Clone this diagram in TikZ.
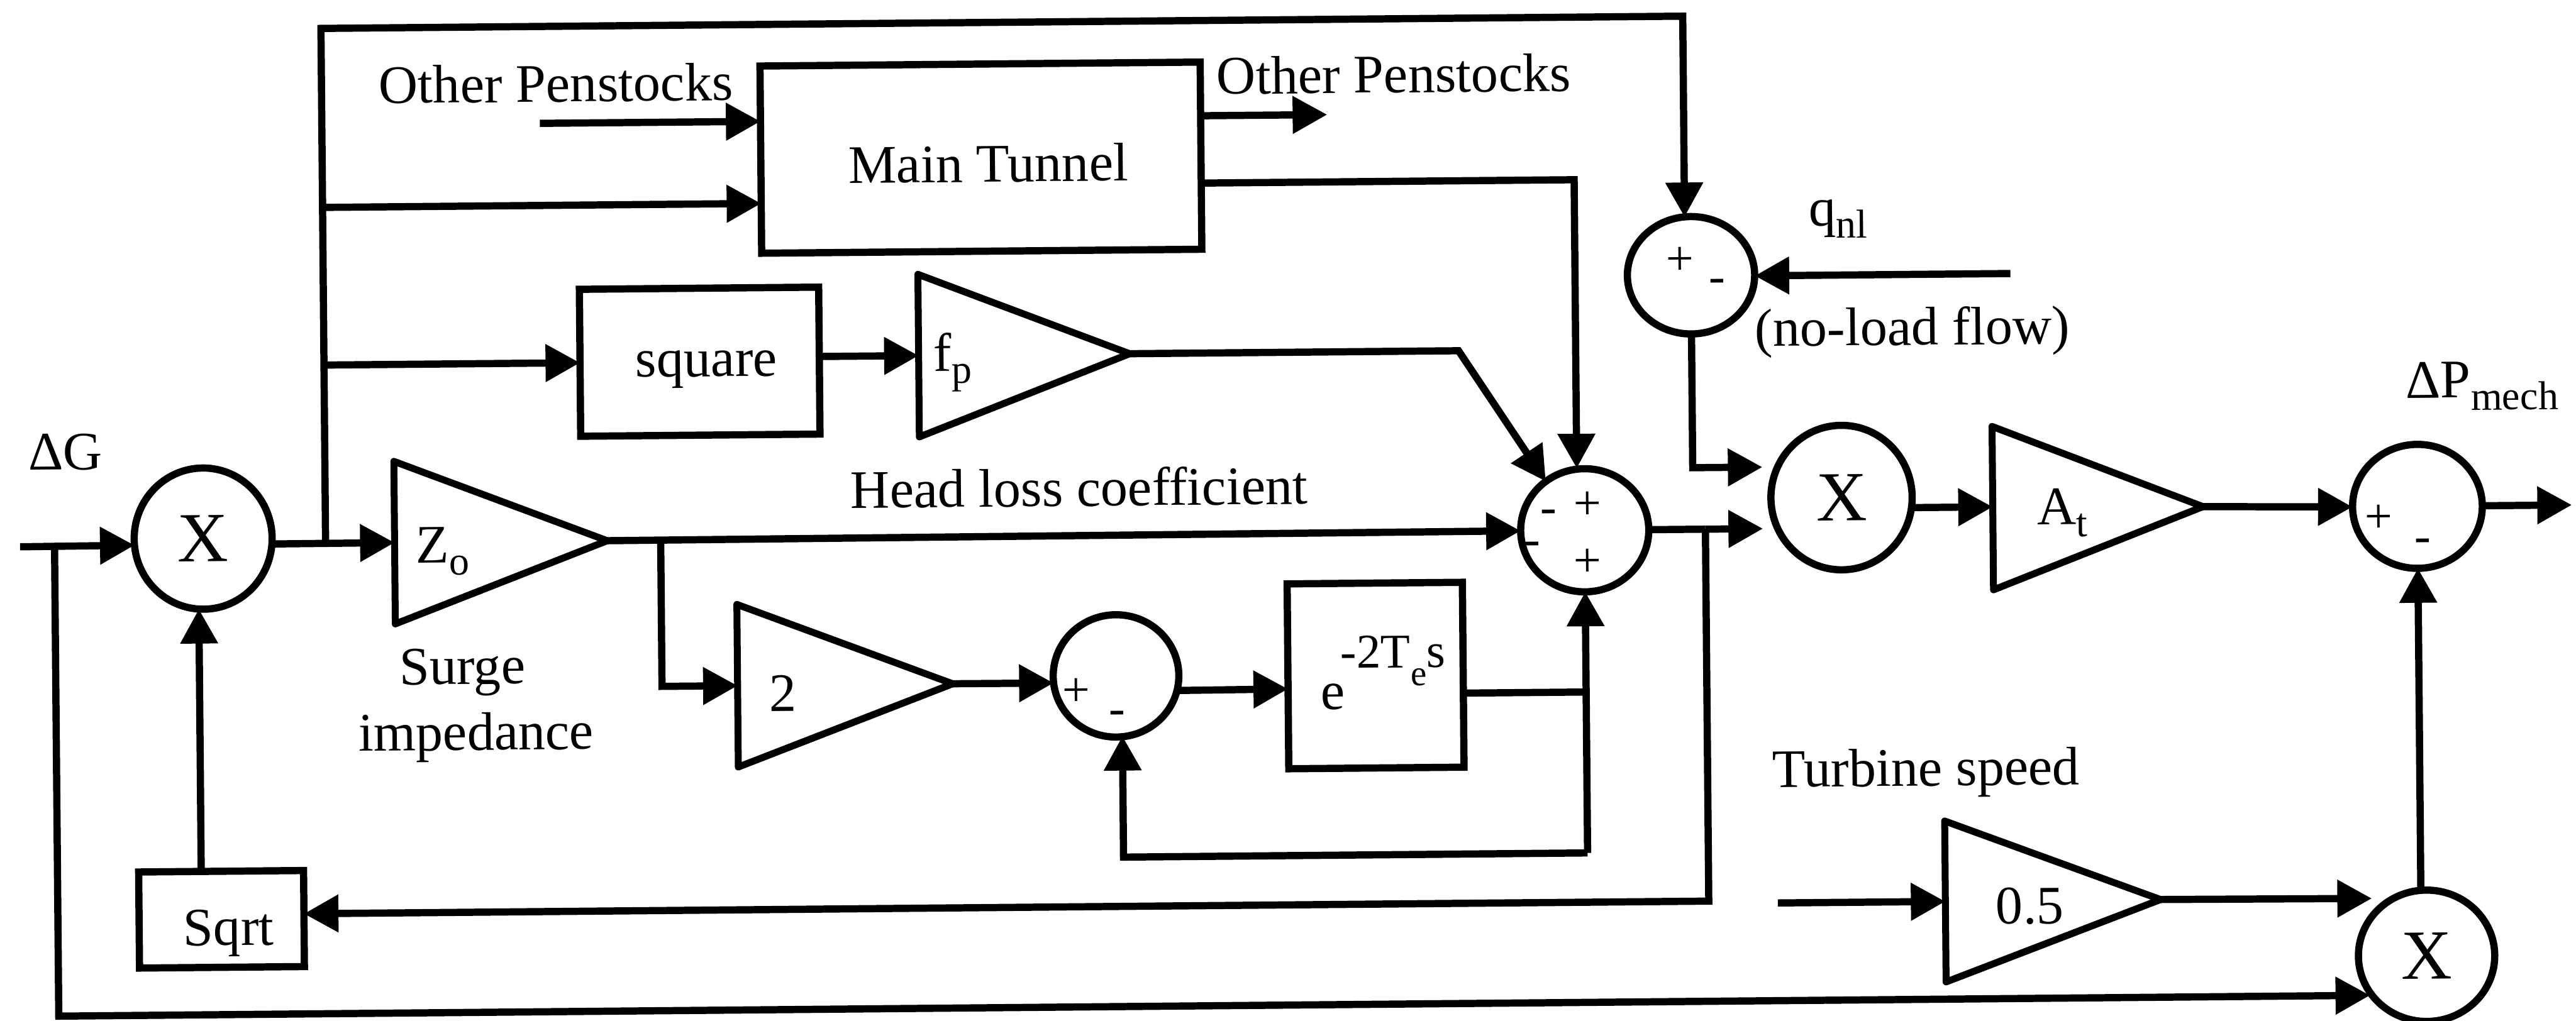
\documentclass[tikz,border=0pt]{standalone}
\usepackage{fontspec}
\setmainfont{Liberation Serif}
\usetikzlibrary{arrows.meta,shapes.geometric}
\newcommand\sbs[1]{\raisebox{-0.15cm}{\fontsize{14}{16}\selectfont #1}}
\begin{document}
\begin{tikzpicture}[x=0.02cm,y=-0.02cm,
  every node/.style={inner sep=0pt,outer sep=0pt},
  wire/.style={line width=2.5pt,line join=miter},
  arr/.style={wire,-{Triangle[length=0.42cm,width=0.44cm]}},
  tri/.style={line width=2.4pt,line join=round},
  blk/.style={draw,line width=2.5pt,rectangle},
  sumn/.style={draw,line width=2.5pt,ellipse,font=\fontsize{24.4}{28}\selectfont},
  txt/.style={font=\fontsize{18.8}{22}\selectfont,anchor=base},
  sgn/.style={font=\fontsize{17}{20}\selectfont,anchor=center},
]
\useasboundingbox (0,0) rectangle (1568,621.5);
\begin{scope}[rotate around={0.516:(784,311)},transform shape]
% ---------- blocks ----------
\node[sumn,minimum width=1.68cm,minimum height=1.72cm] (X1) at (123.5,322) {X};
\node[sumn,minimum width=1.72cm,minimum height=1.76cm] (X2) at (1121,306) {X};
\node[sumn,minimum width=1.66cm,minimum height=1.60cm] (X3) at (1474.6,588.2) {X};
\node[sumn,minimum width=1.55cm,minimum height=1.43cm] (qs) at (1030.6,169.8) {};
\node[sumn,minimum width=1.56cm,minimum height=1.50cm] (ms) at (964.5,324.5) {};
\node[sumn,minimum width=1.53cm,minimum height=1.49cm] (ss) at (678.4,410.6) {};
\node[sumn,minimum width=1.58cm,minimum height=1.51cm] (os) at (1471.5,314.5) {};
\node[blk,minimum width=5.36cm,minimum height=2.28cm] (mt) at (599,94.3) {};
\node[blk,minimum width=2.914cm,minimum height=1.79cm] (sq) at (426.7,217) {};
\node[blk,minimum width=2.134cm,minimum height=2.252cm] (ex) at (836.4,411.8) {};
\node[blk,minimum width=2.008cm,minimum height=1.17cm] (sqrt) at (132.6,553.9) {};
% gain triangles
\draw[tri] (240,276) -- (369.5,325.5) -- (240,375) -- cycle;
\coordinate (Z0in) at (240,325.5); \coordinate (Z0out) at (369.5,325.5);
\draw[tri] (448,365) -- (579,414.5) -- (448,464) -- cycle;
\coordinate (T2in) at (448,414.5); \coordinate (T2out) at (579,414.5);
\draw[tri] (560,165) -- (688.5,214.5) -- (560,264) -- cycle;
\coordinate (FPin) at (560,214.5); \coordinate (FPout) at (688.5,214.5);
\draw[tri] (1213,263.5) -- (1341,313.5) -- (1213,363) -- cycle;
\coordinate (ATin) at (1213,312.5); \coordinate (ATout) at (1341,313.5);
\draw[tri] (1182,503.5) -- (1313,552.5) -- (1182,601.5) -- cycle;
\coordinate (Hin) at (1182,552.5); \coordinate (Hout) at (1313,552.5);
% ---------- junctions / free ends ----------
\coordinate (in) at (12,326);
\coordinate (jIn) at (33,326);
\coordinate (jBL) at (33,612);
\coordinate (X3b) at (1440,612);
\coordinate (jX) at (198,325.5);
\coordinate (jTL) at (198,12);
\coordinate (jTR) at (1027,12);
\coordinate (qsTop) at (1027,134.3);
\coordinate (jMT) at (198,121);
\coordinate (mtIn) at (465,121);
\coordinate (opIn) at (330.7,71);
\coordinate (opInE) at (465,71);
\coordinate (jSQ) at (198,217);
\coordinate (fpC) at (888.7,214.5);
\coordinate (mtO1) at (733,70);
\coordinate (mtO1e) at (810,70);
\coordinate (mtO2) at (733,111);
\coordinate (mtC) at (960,111);
\coordinate (msTop) at (960,286.7);
\coordinate (jZ) at (402,325);
\coordinate (jZd) at (402,414.5);
\coordinate (exIn) at (783,419.5);
\coordinate (exOut) at (889.8,423);
\coordinate (jE) at (964.5,423);
\coordinate (jF) at (964.5,521);
\coordinate (jG) at (682,521);
\coordinate (ssBot) at (682,447.3);
\coordinate (jR) at (1038,324.5);
\coordinate (X2lo) at (1073,324.5);
\coordinate (jRd) at (1038,551);
\coordinate (sqIn) at (182.8,551);
\coordinate (sqTop) at (120.5,524.6);
\coordinate (X1bot) at (120.5,364.9);
\coordinate (jQ) at (1030.6,287);
\coordinate (X2up) at (1073,287);
\coordinate (qnl) at (1225,170.5);
\coordinate (qsE) at (1069.4,170.5);
\coordinate (X2o) at (1163.5,312.5);
\coordinate (outE) at (1565.5,314.5);
\coordinate (X3top) at (1471.5,548.4);
\coordinate (X3l) at (1441.6,553);
\coordinate (ts) at (1080,552.5);
% ---------- connectors ----------
\draw[arr] (in) -- (X1.185);
\draw[arr] (jIn) -- (jBL) -- (X3b);
\draw[arr] (X1.-5) -- (Z0in);
\draw[arr] (jX) -- (jTL) -- (jTR) -- (qsTop);
\draw[arr] (jMT) -- (mtIn);
\draw[arr] (opIn) -- (opInE);
\draw[arr] (jSQ) -- (sq.west);
\draw[arr] (sq.east |- FPin) -- (FPin);
\draw[arr] (FPout) -- (fpC) -- (ms.128);
\draw[arr] (mtO1) -- (mtO1e);
\draw[arr] (mtO2) -- (mtC) -- (msTop);
\draw[arr] (Z0out) -- (ms.west);
\draw[arr] (jZ) -- (jZd) -- (T2in);
\draw[arr] (T2out) -- (ss.186);
\draw[arr] (ss.-14) -- (exIn);
\draw[wire] (exOut) -- (jE);
\draw[arr] (jF) -- (ms.south);
\draw[arr] (jF) -- (jG) -- (ssBot);
\draw[wire] (ms.east) -- (jR);
\draw[arr] (jR) -- (X2lo);
\draw[arr] (jR) -- (jRd) -- (sqIn);
\draw[arr] (sqTop) -- (X1bot);
\draw[arr] (qs.south) -- (jQ) -- (X2up);
\draw[arr] (qnl) -- (qsE);
\draw[arr] (X2o) -- (ATin);
\draw[arr] (ATout) -- (os.west);
\draw[arr] (os.east) -- (outE);
\draw[arr] (X3top) -- (os.south);
\draw[arr] (Hout) -- (X3l);
\draw[arr] (ts) -- (Hin);
% ---------- signs ----------
\node[sgn] (qsP) at (1024,161.1) {+};
\node[sgn] (qsM) at (1046.6,176.4) {-};
\node[sgn] (msM1) at (942.7,315.8) {-};
\node[sgn] (msP1) at (966.4,309.6) {+};
\node[sgn] (msM2) at (932.5,335.5) {-};
\node[sgn] (msP2) at (966.1,344.4) {+};
\node[sgn] (ssP) at (654.1,420.5) {+};
\node[sgn] (ssM) at (678.7,436.3) {-};
\node[sgn] (osP) at (1447.9,321.8) {+};
\node[sgn] (osM) at (1474.6,338.5) {-};
% ---------- labels ----------
\node[txt] (tDG) at (40,279.3) {ΔG};
\node[txt] (tOP1) at (340.7,58) {Other Penstocks};
\node[txt,anchor=base west] (tOP2) at (743,57) {Other Penstocks};
\node[txt] (tMT) at (603.5,109.1) {Main Tunnel};
\node[txt] (tSQ) at (430.8,226.1) {square};
\node[txt,anchor=base west] (tFP) at (569,224) {f\sbs{p}};
\node[txt,anchor=base west] (tZ) at (253,338) {Z\sbs{o}};
\node[txt] (t2) at (475.6,430.3) {2};
\node[txt] (tSurge) at (280.6,412.1) {Surge};
\node[txt] (tImp) at (288.6,452.3) {impedance};
\node[txt] (tHL) at (657,307) {Head loss coefficient};
\node[txt,anchor=center] (tNL) at (1165,205.4) {(no-load flow)};
\node[txt,anchor=base west] (tQ) at (1102.6,140.5) {q\sbs{nl}};
\node[txt,anchor=base west] (tP) at (1465,248.6) {ΔP\sbs{mech}};
\node[txt,anchor=base west] (tA) at (1240,323.5) {A\sbs{t}};
\node[txt] (tTS) at (1171,482) {Turbine speed};
\node[txt] (t05) at (1233.4,566.5) {0.5};
\node[txt] (tSqrt) at (136.9,569.8) {Sqrt};
\node[txt,anchor=base west] (tE) at (802.9,432.2) {e\kern-0.05cm\raisebox{0.5cm}{\fontsize{16.8}{18}\selectfont -2T\raisebox{-0.22cm}{\fontsize{12.5}{14}\selectfont e}s}};
\end{scope}
\end{tikzpicture}
\end{document}
